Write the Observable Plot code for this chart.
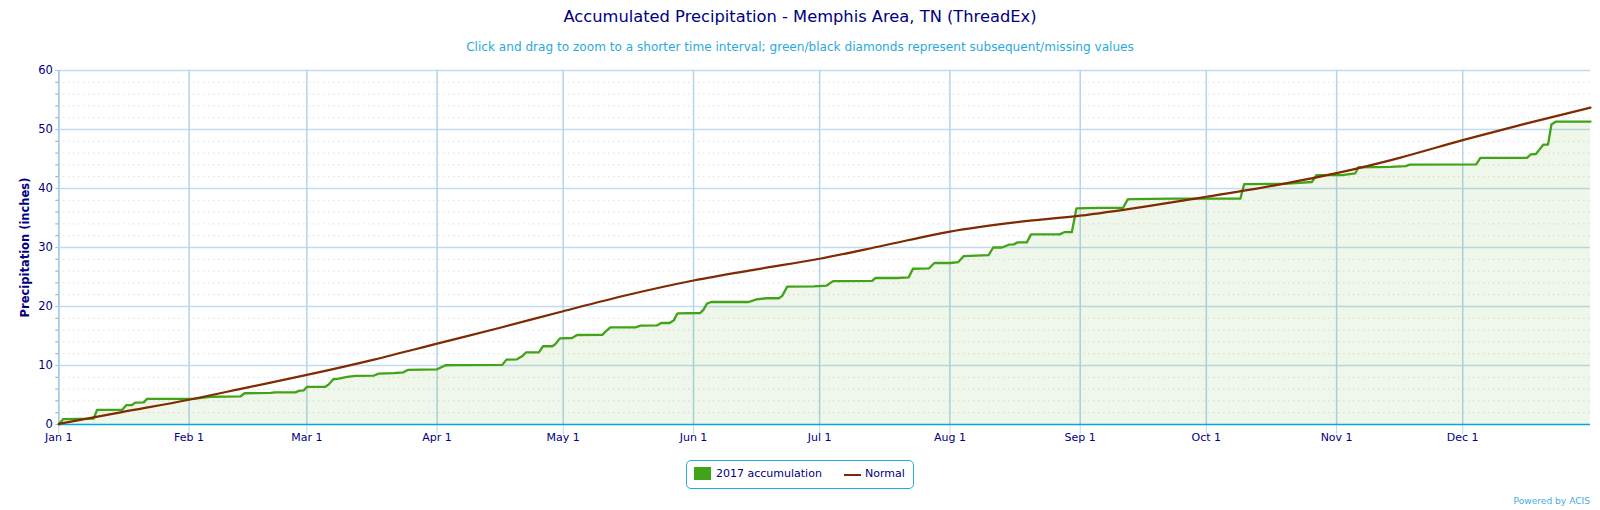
<!DOCTYPE html>
<html>
<head>
<meta charset="utf-8">
<script src="https://cdn.jsdelivr.net/npm/d3@7"></script>
<script src="https://cdn.jsdelivr.net/npm/@observablehq/plot@0.6"></script>
<style>
  html,body{margin:0;padding:0;background:#fff;font-family:"DejaVu Sans",sans-serif;}
  #page{position:relative;width:1600px;height:510px;overflow:hidden;}
  #title{position:absolute;left:0;width:1600px;top:7px;text-align:center;font-size:16.3px;line-height:20px;color:#000080;}
  #subtitle{position:absolute;left:0;width:1600px;top:39px;text-align:center;font-size:12.1px;line-height:16px;color:#2aa9e0;}
  #chart{position:absolute;left:0;top:60px;}
  #legend{position:absolute;left:686px;top:460px;width:226px;height:27px;border:1px solid #2aa9e0;border-radius:5px;font-size:11px;color:#000080;}
  #legend .sw{position:absolute;left:7px;top:6px;width:17px;height:13px;background:#41a317;}
  #legend .ln{position:absolute;left:157px;top:13px;width:17px;height:2px;background:#7f2a00;}
  #legend .t1{position:absolute;left:29px;top:6px;white-space:nowrap;}
  #legend .t2{position:absolute;left:178px;top:6px;white-space:nowrap;}
  #credit{position:absolute;right:10px;top:495px;font-size:9.1px;line-height:12px;color:#49ace0;}
</style>
</head>
<body>
<div id="page">
  <div id="title">Accumulated Precipitation - Memphis Area, TN (ThreadEx)</div>
  <div id="subtitle">Click and drag to zoom to a shorter time interval; green/black diamonds represent subsequent/missing values</div>
  <div id="chart"></div>
  <div id="legend"><div class="sw"></div><div class="t1">2017 accumulation</div><div class="ln"></div><div class="t2">Normal</div></div>
  <div id="credit">Powered by ACIS</div>
</div>
<script>
const monthDays = [0,31,59,90,120,151,181,212,243,273,304,334];
const monthLabels = ["Jan 1","Feb 1","Mar 1","Apr 1","May 1","Jun 1","Jul 1","Aug 1","Sep 1","Oct 1","Nov 1","Dec 1"];
const majorY = [0,10,20,30,40,50,60];
const minorY = [2,4,6,8,12,14,16,18,22,24,26,28,32,34,36,38,42,44,46,48,52,54,56,58];

const accumDays = [0,1,8.3,9.1,15.1,16.1,17.4,18.2,20.2,21,32,36,43.2,44.2,50.4,51.4,56.3,57.1,58.3,59,63.4,64.2,65.3,66.6,68.6,70.6,75,76.1,79.7,82,83,90,92,94.4,105.5,106.5,109,110.2,111.2,114.2,115.2,117.4,118.1,119.2,122.1,123.3,129.3,130,131.2,137.2,138.4,142.3,143.3,145.3,146.3,147.2,152.6,153.4,154.2,155.2,164.1,166,168.3,171.3,172.1,173.3,179.6,182.6,184.2,193.5,194.3,199.4,202.2,203.2,207,208.3,212.1,214,215.3,221.2,222.3,224.4,226,227.2,228.1,230.3,231.3,238.1,239.2,241,242.1,247.4,253.2,254.3,255.3,265.2,281.1,282,291.4,298.1,299.2,305.3,308.4,309.2,316.8,320.4,321.4,337.2,338.2,349.3,350.2,351.4,352.2,353.2,354.3,355.1,356.2,364.4];
const accumVals = [0,0.9,1.0,2.47,2.5,3.3,3.3,3.7,3.75,4.35,4.35,4.7,4.75,5.3,5.35,5.45,5.45,5.7,5.8,6.37,6.4,6.77,7.67,7.77,8.07,8.24,8.3,8.63,8.7,8.85,9.25,9.35,10.04,10.05,10.1,11.0,11.05,11.56,12.24,12.24,13.26,13.26,13.6,14.6,14.66,15.17,15.2,15.7,16.47,16.47,16.76,16.8,17.2,17.2,17.65,18.85,18.9,19.47,20.5,20.76,20.76,21.2,21.4,21.4,21.8,23.37,23.4,23.53,24.3,24.35,24.83,24.83,24.94,26.4,26.45,27.37,27.37,27.53,28.55,28.72,30.0,30.0,30.47,30.53,30.87,30.87,32.22,32.22,32.6,32.6,36.62,36.73,36.73,38.15,38.2,38.3,38.28,40.74,40.8,41.1,42.27,42.27,42.55,43.6,43.65,43.8,44.05,44.08,45.2,45.2,45.8,45.85,46.55,47.45,47.45,50.85,51.35,51.35];

const normalDays = [0,15,31,45,59,75,90,105,120,135,151,166,181,196,212,228,243,258,273,289,304,319,334,349,364.4];
const normalVals = [0.1,2.1,4.2,6.3,8.4,11,13.7,16.4,19.2,21.9,24.4,26.3,28.1,30.3,32.7,34.3,35.4,36.9,38.6,40.5,42.6,45.2,48.2,51,53.7];

const accum = accumDays.map((d,i)=>({d,v:accumVals[i]}));
const normal = normalDays.map((d,i)=>({d,v:normalVals[i]}));
const fmt = d3.scaleOrdinal(monthDays, monthLabels);

const plot = Plot.plot({
  width:1600, height:390,
  marginLeft:58.3, marginRight:10, marginTop:10, marginBottom:26,
  style:{fontFamily:'"DejaVu Sans",sans-serif',background:"transparent",overflow:"visible"},
  x:{type:"linear",domain:[0,364.4],axis:null},
  y:{domain:[0,60],axis:null},
  marks:[
    Plot.ruleY(minorY,{stroke:"#c4c4c4",strokeWidth:1,strokeDasharray:"1,4",strokeOpacity:0.8}),
    Plot.ruleY(majorY.filter(v=>v>0),{stroke:"#c2dcef",strokeWidth:1.5}),
    Plot.ruleX(monthDays,{stroke:"#b4d4ea",strokeWidth:1.5}),
    Plot.axisX({ticks:monthDays,label:null,tickFormat:d=>fmt(d),tickSize:10,tickPadding:-1,stroke:"#c5d5e2",fill:"#000080",fontSize:11}),
    Plot.axisY({ticks:minorY,label:null,tickSize:3,text:null,stroke:"#a0a0a0"}),
    Plot.axisY({ticks:majorY,label:null,tickSize:3,tickPadding:3,stroke:"#a0c4dd",fill:"#000080",fontSize:11.5}),
    Plot.ruleX([0],{stroke:"#a6cce6",strokeWidth:1.5}),
    Plot.areaY(accum,{x:"d",y:"v",fill:"#41a317",fillOpacity:0.09}),
    Plot.ruleY([0],{stroke:"#00a8e8",strokeWidth:1.5}),
    Plot.lineY(accum,{x:"d",y:"v",stroke:"#41a317",strokeWidth:2.3}),
    Plot.lineY(normal,{x:"d",y:"v",stroke:"#7f2a00",strokeWidth:2.2,curve:"monotone-x"}),
    Plot.text(["Precipitation (inches)"],{frameAnchor:"left",textAnchor:"middle",dx:-33,rotate:-90,fill:"#000080",fontWeight:"bold",fontSize:11.5})
  ]
});
document.getElementById("chart").appendChild(plot);
</script>
</body>
</html>
